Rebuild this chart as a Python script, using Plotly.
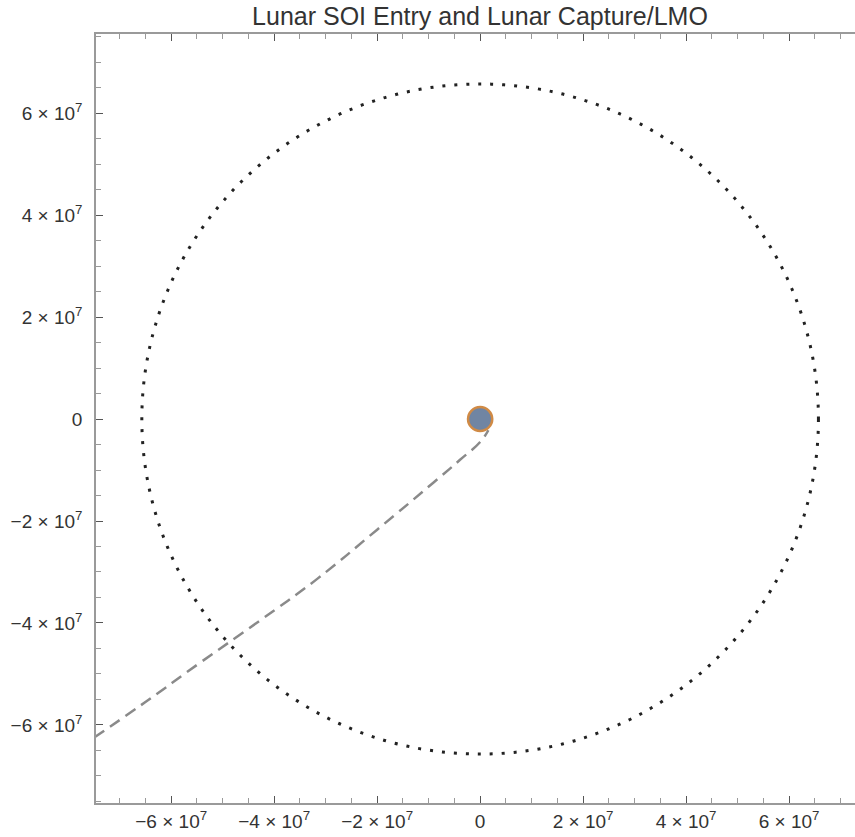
import plotly.graph_objects as go

# ---- data (metres) ----
traj_x = [-7.5e7, -6.5e7, -5.44e7, -4.3e7, -3.17e7, -2.0e7, -0.91e7, -0.39e7, 0.0, 0.16e7]
traj_y = [-6.25e7, -5.55e7, -4.78e7, -3.97e7, -3.14e7, -2.17e7, -1.25e7, -0.80e7, -0.45e7, -0.22e7]
soi_radius = 6.57e7
moon_radius = 1.95e6
lmo_radius = 2.35e6
tick_vals = [-6e7, -4e7, -2e7, 0, 2e7, 4e7, 6e7]
tick_text = ["−6 × 10<sup>7</sup>", "−4 × 10<sup>7</sup>", "−2 × 10<sup>7</sup>", "0",
             "2 × 10<sup>7</sup>", "4 × 10<sup>7</sup>", "6 × 10<sup>7</sup>"]
title = "Lunar SOI Entry and Lunar Capture/LMO"

fig = go.Figure()
fig.add_trace(go.Scatter(x=traj_x, y=traj_y, mode="lines",
                         line=dict(color="#8a8a8a", width=2.5, dash="12px,7px",
                                   shape="spline", smoothing=1.3),
                         hoverinfo="skip", showlegend=False))

fig.add_shape(type="circle", xref="x", yref="y",
              x0=-soi_radius, y0=-soi_radius, x1=soi_radius, y1=soi_radius,
              line=dict(color="#222222", width=3, dash="3px,9px"))
fig.add_shape(type="circle", xref="x", yref="y",
              x0=-lmo_radius, y0=-lmo_radius, x1=lmo_radius, y1=lmo_radius,
              line=dict(color="#d08a45", width=2.5), fillcolor="#7085a3", layer="above")
fig.add_shape(type="circle", xref="x", yref="y",
              x0=-moon_radius, y0=-moon_radius, x1=moon_radius, y1=moon_radius,
              line=dict(width=0), fillcolor="#7085a3", layer="above")

font = "Liberation Sans, Arial, sans-serif"
axis_common = dict(
    tickvals=tick_vals, ticktext=tick_text, ticks="inside", ticklen=7, tickwidth=1.3,
    tickcolor="#555555", showline=True, linecolor="#9a9a9a", linewidth=1.5,
    showgrid=False, zeroline=False, automargin=False,
    minor=dict(dtick=5e6, tick0=0, ticks="inside", ticklen=5, tickcolor="#999999", tickwidth=1),
    tickfont=dict(family=font, size=19, color="#333333"),
)

fig.update_xaxes(range=[-7.46e7, 7.28e7], mirror="ticks", ticklabelstandoff=0, **axis_common)
fig.update_yaxes(range=[-7.53e7, 7.55e7], mirror=False, ticklabelstandoff=8, **axis_common)

fig.update_layout(
    width=855, height=837,
    margin=dict(l=96, r=0, t=34, b=34),
    paper_bgcolor="white", plot_bgcolor="white",
    title=dict(text=title, x=480/855, xanchor="center", y=1 - 16/837, yanchor="middle",
               yref="container", font=dict(family=font, size=25, color="#333333")),
    showlegend=False, hovermode=False,
)

fig.write_html("out.html")
